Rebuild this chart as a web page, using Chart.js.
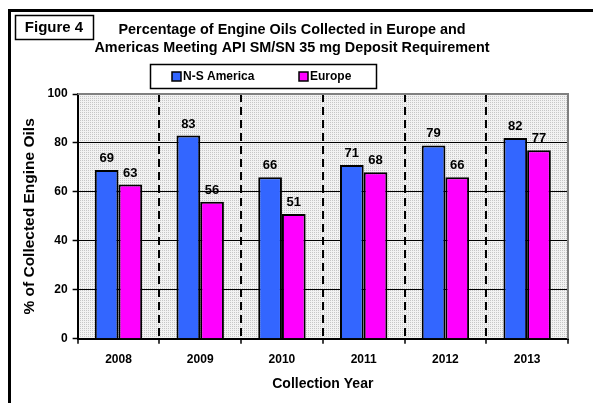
<!DOCTYPE html>
<html>
<head>
<meta charset="utf-8">
<script src="https://cdn.jsdelivr.net/npm/chart.js@4/dist/chart.umd.min.js"></script>
<style>
  html, body { margin: 0; padding: 0; background: #fff; }
  #wrap { width: 593px; height: 403px; }
</style>
</head>
<body>
<div id="wrap"><canvas id="chart" width="593" height="403"></canvas></div>
<script>
const years = ['2008', '2009', '2010', '2011', '2012', '2013'];
const americaValues = [69, 83, 66, 71, 79, 82];
const europeValues = [63, 56, 51, 68, 66, 77];
const yTicks = [0, 20, 40, 60, 80, 100];
const titleLines = ['Percentage of Engine Oils Collected in Europe and',
                    'Americas Meeting API SM/SN 35 mg Deposit Requirement'];

const FONT = '"Liberation Sans", Arial, sans-serif';

// dotted grey fill used behind the bars
function makePattern(ctx) {
  const c = document.createElement('canvas');
  c.width = 2; c.height = 2;
  const p = c.getContext('2d');
  p.fillStyle = '#f2f2f2';
  p.fillRect(0, 0, 2, 2);
  p.fillStyle = '#c6c6c6';
  p.fillRect(0, 0, 1, 1);
  return ctx.createPattern(c, 'repeat');
}

const framePlugin = {
  id: 'frame',
  beforeDraw(chart) {
    const {ctx, chartArea: a} = chart;
    ctx.save();
    ctx.fillStyle = makePattern(ctx);
    ctx.fillRect(a.left, a.top, a.right - a.left, a.bottom - a.top);
    ctx.restore();
  },
  afterDatasetsDraw(chart) {
    const ctx = chart.ctx;
    ctx.save();
    ctx.font = 'bold 13px ' + FONT;
    ctx.fillStyle = '#000';
    ctx.textAlign = 'center';
    ctx.textBaseline = 'bottom';
    chart.data.datasets.forEach((ds, i) => {
      chart.getDatasetMeta(i).data.forEach((bar, j) => {
        ctx.fillText(ds.data[j], bar.x, bar.y - 5);
      });
    });
    ctx.restore();
  },
  afterDraw(chart) {
    const {ctx, chartArea: a} = chart;
    ctx.save();
    // grey frame on top and right of plot
    ctx.strokeStyle = '#808080';
    ctx.lineWidth = 2;
    ctx.beginPath();
    ctx.moveTo(a.left, a.top);
    ctx.lineTo(a.right, a.top);
    ctx.lineTo(a.right, a.bottom);
    ctx.stroke();

    // outer border
    ctx.strokeStyle = '#000';
    ctx.lineWidth = 3;
    ctx.strokeRect(9.5, 10.5, 700, 500);

    // "Figure 4" box
    ctx.lineWidth = 1.5;
    ctx.strokeRect(15.5, 15.5, 78, 24);
    ctx.fillStyle = '#000';
    ctx.font = 'bold 15px ' + FONT;
    ctx.textAlign = 'center';
    ctx.textBaseline = 'middle';
    ctx.fillText('Figure 4', 54, 28);

    // legend
    ctx.strokeRect(150.5, 64.5, 226, 24);
    ctx.font = 'bold 12px ' + FONT;
    ctx.textAlign = 'left';
    const items = [[172, chart.data.datasets[0]], [299, chart.data.datasets[1]]];
    items.forEach(([x, ds]) => {
      ctx.fillStyle = ds.backgroundColor;
      ctx.fillRect(x, 72, 9, 9);
      ctx.lineWidth = 1.5;
      ctx.strokeRect(x, 72, 9, 9);
      ctx.fillStyle = '#000';
      ctx.fillText(ds.label, x + 11, 77);
    });
    ctx.restore();
  }
};

new Chart(document.getElementById('chart'), {
  type: 'bar',
  data: {
    labels: years,
    datasets: [
      { label: 'N-S America', data: americaValues, backgroundColor: '#3366ff',
        borderColor: '#000', borderWidth: 2 },
      { label: 'Europe', data: europeValues, backgroundColor: '#ff00ff',
        borderColor: '#000', borderWidth: 2 }
    ]
  },
  options: {
    responsive: false,
    animation: false,
    devicePixelRatio: 1,
    categoryPercentage: 0.58,
    barPercentage: 1,
    layout: { padding: { left: 16, right: 25, top: 0, bottom: 6 } },
    plugins: {
      legend: { display: false },
      tooltip: { enabled: false },
      title: {
        display: true,
        text: titleLines,
        color: '#000',
        font: { family: FONT, size: 14.4, weight: 'bold', lineHeight: 1.25 },
        padding: { top: 21, bottom: 37 }
      }
    },
    scales: {
      x: {
        grid: {
          offset: true,
          color: c => (c.index > 0 && c.index < years.length) ? '#000' : 'rgba(0,0,0,0)',
          lineWidth: 2,
          tickColor: '#000',
          tickLength: 5,
          tickWidth: 1.5
        },
        border: { color: '#000', width: 2, dash: [8, 5] },
        ticks: { color: '#000', font: { family: FONT, size: 12, weight: 'bold' }, padding: 9 },
        title: {
          display: true, text: 'Collection Year', color: '#000',
          font: { family: FONT, size: 14, weight: 'bold' }, padding: { top: 0 }
        }
      },
      y: {
        min: 0, max: 100,
        afterBuildTicks: axis => { axis.ticks = yTicks.map(v => ({ value: v })); },
        grid: {
          color: c => (c.tick && c.tick.value > 0 && c.tick.value < 100) ? '#000' : 'rgba(0,0,0,0)',
          lineWidth: 1,
          tickColor: '#000',
          tickLength: 5,
          tickWidth: 1.5
        },
        border: { color: '#000', width: 2 },
        ticks: { color: '#000', font: { family: FONT, size: 12, weight: 'bold' }, padding: 5 },
        title: {
          display: true, text: '% of Collected Engine Oils', color: '#000',
          font: { family: FONT, size: 15.5, weight: 'bold' }, padding: { bottom: 4 }
        }
      }
    }
  },
  plugins: [framePlugin]
});
</script>
</body>
</html>
